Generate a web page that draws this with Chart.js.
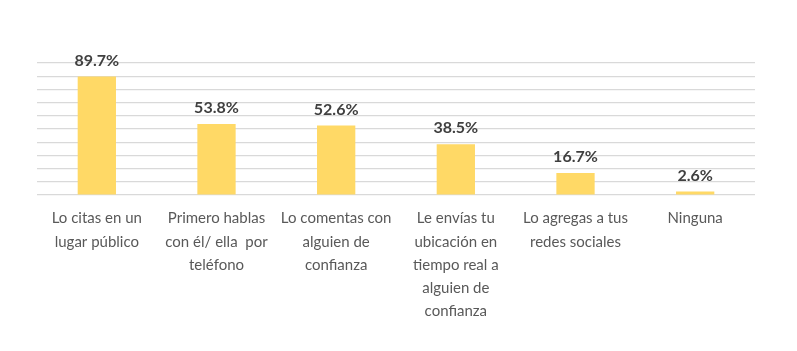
<!DOCTYPE html>
<html>
<head>
<meta charset="utf-8">
<script src="https://cdn.jsdelivr.net/npm/chart.js@4.4.0/dist/chart.umd.min.js"></script>
<style>
  html, body { margin: 0; padding: 0; background: #ffffff; }
  #wrap { width: 797px; height: 351px; }
</style>
</head>
<body>
<div id="wrap"><canvas id="chart"></canvas></div>
<script>
    // Chart data
    const categories = [
        ['Lo citas en un', 'lugar público'],
        ['Primero hablas', 'con él/ ella  por', 'teléfono'],
        ['Lo comentas con', 'alguien de', 'confianza'],
        ['Le envías tu', 'ubicación en', 'tiempo real a', 'alguien de', 'confianza'],
        ['Lo agregas a tus', 'redes sociales'],
        ['Ninguna']
    ];
    const percentages = [89.7, 53.8, 52.6, 38.5, 16.7, 2.6];
    const yTicks = [0, 10, 20, 30, 40, 50, 60, 70, 80, 90, 100];

    // Draws the value above each bar
    const valueLabels = {
        id: 'valueLabels',
        afterDatasetsDraw(chart) {
            const ctx = chart.ctx;
            const meta = chart.getDatasetMeta(0);
            ctx.save();
            ctx.font = 'bold 16px Lato';
            ctx.fillStyle = '#404040';
            ctx.textAlign = 'center';
            ctx.textBaseline = 'alphabetic';
            meta.data.forEach((bar, i) => {
                ctx.fillText(percentages[i].toFixed(1) + '%', bar.x, bar.y - 11);
            });
            ctx.restore();
        }
    };

    document.addEventListener('DOMContentLoaded', () => {
        const ctx = document.getElementById('chart').getContext('2d');
        new Chart(ctx, {
            type: 'bar',
            data: {
                labels: categories,
                datasets: [{
                    data: percentages,
                    backgroundColor: '#ffd966',
                    barPercentage: 0.32,
                    categoryPercentage: 1
                }]
            },
            options: {
                responsive: true,
                maintainAspectRatio: false,
                animation: false,
                layout: { padding: { left: 37, right: 42, top: 63, bottom: 24 } },
                plugins: {
                    legend: { display: false },
                    tooltip: { enabled: false }
                },
                scales: {
                    x: {
                        grid: { display: false },
                        border: { display: false },
                        ticks: {
                            autoSkip: false,
                            maxRotation: 0,
                            padding: 4,
                            color: '#595959',
                            font: { family: 'Lato', size: 15, lineHeight: 1.55 }
                        }
                    },
                    y: {
                        min: 0,
                        max: 100,
                        afterBuildTicks(axis) {
                            axis.ticks = yTicks.map(v => ({ value: v }));
                        },
                        ticks: { display: false },
                        border: { display: false },
                        grid: { color: '#d9d9d9', lineWidth: 1.2, drawTicks: false }
                    }
                }
            },
            plugins: [valueLabels]
        });
    });
</script>
</body>
</html>
